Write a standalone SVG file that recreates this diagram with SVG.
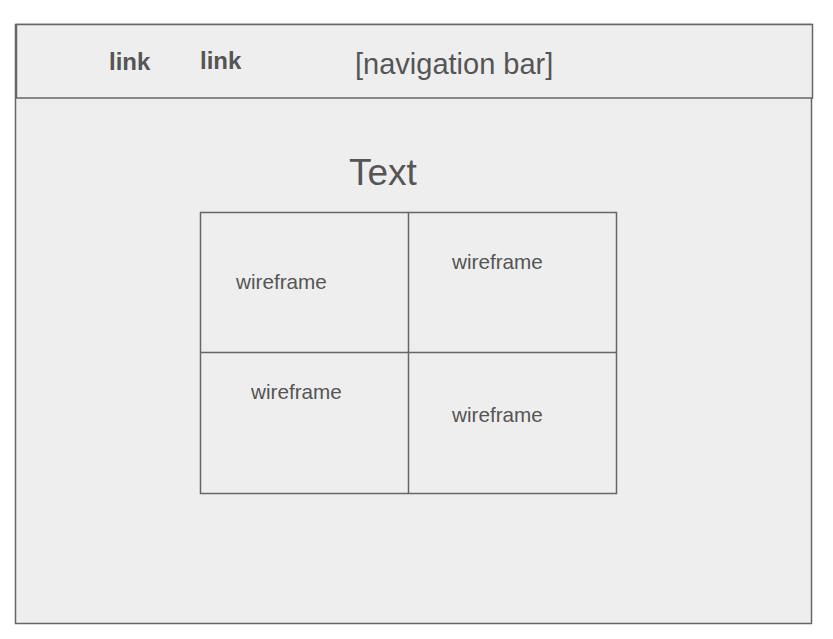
<svg xmlns="http://www.w3.org/2000/svg" width="833" height="639" viewBox="0 0 833 639">
<style>
.box{fill:#eeeeee;stroke:#666666;stroke-width:1.5}
.cell{fill:none;stroke:#666666;stroke-width:1.5}
text{font-family:"Liberation Sans",Arial,sans-serif;fill:#555555}
.link{font-size:24px;font-weight:bold}
.wf{font-size:20.7px}
</style>
<g id="page"><rect class="box" x="15.5" y="24.5" width="796" height="599"/></g>
<g id="navbar">
<rect class="box" x="16.5" y="24.5" width="796" height="73.5"/>
<text class="link" x="109" y="70">link</text>
<text class="link" x="200" y="69">link</text>
<text x="355" y="74" font-size="29">[navigation bar]</text>
</g>
<g id="title"><text x="349" y="185" font-size="37">Text</text></g>
<g id="grid">
<rect class="cell" x="200.5" y="212.5" width="416" height="281"/>
<line class="cell" x1="408.5" y1="212.5" x2="408.5" y2="493.5"/>
<line class="cell" x1="200.5" y1="352.5" x2="616.5" y2="352.5"/>
</g>
<g id="cell1"><text class="wf" x="236" y="289">wireframe</text></g>
<g id="cell2"><text class="wf" x="452" y="269">wireframe</text></g>
<g id="cell3"><text class="wf" x="251" y="399">wireframe</text></g>
<g id="cell4"><text class="wf" x="452" y="422">wireframe</text></g>
<g id="connectors"/>
</svg>
